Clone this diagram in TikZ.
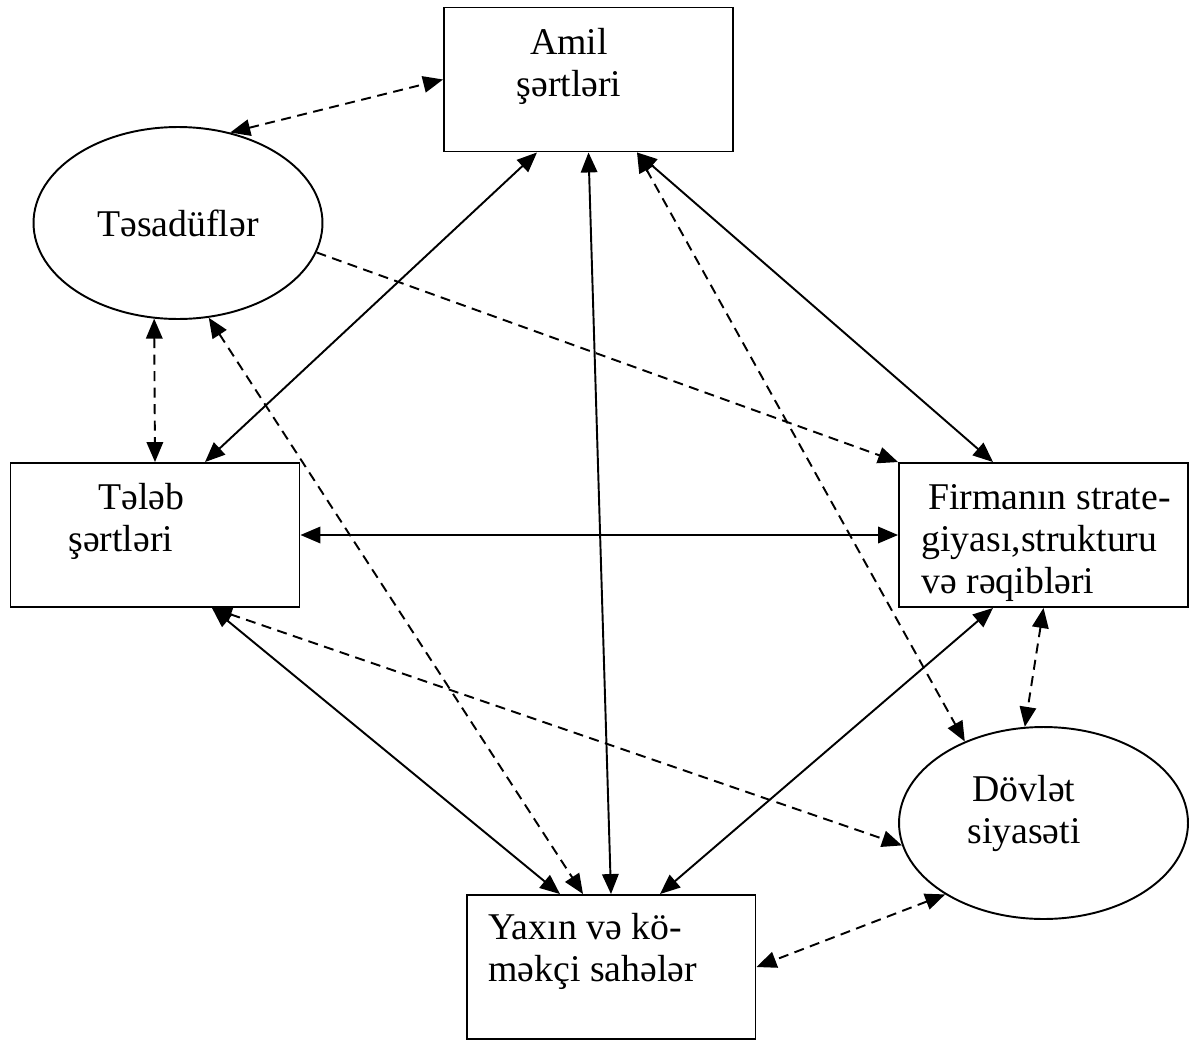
\documentclass[tikz,border=0pt]{standalone}
\usepackage{fontspec}
\setmainfont{Liberation Serif}
\usetikzlibrary{arrows.meta}
\usetikzlibrary{shapes.geometric}

\tikzset{
  box/.style={draw, line width=1.1pt, rectangle, minimum width=5.78cm, minimum height=2.88cm, inner sep=0pt},
  oval/.style={draw, line width=1.1pt, ellipse, minimum width=5.78cm, minimum height=3.84cm, inner sep=0pt},
  txt/.style={inner sep=0pt, font=\fontsize{21.5}{23.9}\selectfont},
  link/.style={line width=1.1pt, <->},
  dlink/.style={link, dash pattern=on 0.2cm off 0.13cm}
}

\begin{document}
\begin{tikzpicture}[x=0.02cm, y=-0.02cm, >={Triangle[length=0.4cm,width=0.33cm]}]
\useasboundingbox (0,0) rectangle (1190,1041);
% the six blocks
\node [box] (amil) at (588.5,79.5) {};
\node [oval, txt] (tesad) at (178,223) {Təsadüflər};
\node [box] (talab) at (155,535) {};
\node [box] (firma) at (1043.5,535) {};
\node [oval] (dovlet) at (1043.5,823) {};
\node [box] (yaxin) at (611,967) {};
% texts
\node [txt, anchor=north, align=center] (amiltxt) at (569,27.6) {Amil\\şərtləri};
\node [txt, anchor=north west, align=left] (talabtxt) at (68,482.6) {\hspace*{0.6cm}Tələb\\şərtləri};
\node [txt, anchor=north west, align=left] (firmatxt) at (921,484.6) {\hspace*{0.14cm}Firmanın strate-\\giyası,strukturu\\və rəqibləri};
\node [txt, anchor=north, align=center] (dovlettxt) at (1024,775) {Dövlət\\siyasəti};
\node [txt, anchor=north west, align=left] (yaxintxt) at (488,912.6) {Yaxın və kö-\\məkçi sahələr};
% solid links
\draw [link] ([xshift=-1.03cm]amil.south) -- ([xshift=1cm]talab.north);
\draw [link] (amil.south) -- (yaxin.north);
\draw [link] ([xshift=0.97cm]amil.south) -- ([xshift=-1.01cm]firma.north);
\draw [link] (talab.east) -- (firma.west);
\draw [link] ([xshift=1.14cm]talab.south) -- ([xshift=-1.02cm]yaxin.north);
\draw [link] ([xshift=-1.01cm]firma.south) -- ([xshift=0.98cm]yaxin.north);
% dashed links
\draw [dlink] (tesad.60) -- (amil.west);
\draw [dlink] ([xshift=0.97cm]amil.south) -- (dovlet.134);
\draw [dlink] (tesad.-104) -- (talab.north);
\draw [dlink, ->] (tesad.-12) -- (firma.north west);
\draw [dlink] (tesad.-72) -- ([xshift=-0.56cm]yaxin.north);
\draw [dlink] ([xshift=1.14cm]talab.south) -- (dovlet.189);
\draw [dlink] (firma.south) -- (dovlet.101);
\draw [dlink] (dovlet.216) -- (yaxin.east);
\end{tikzpicture}
\end{document}
